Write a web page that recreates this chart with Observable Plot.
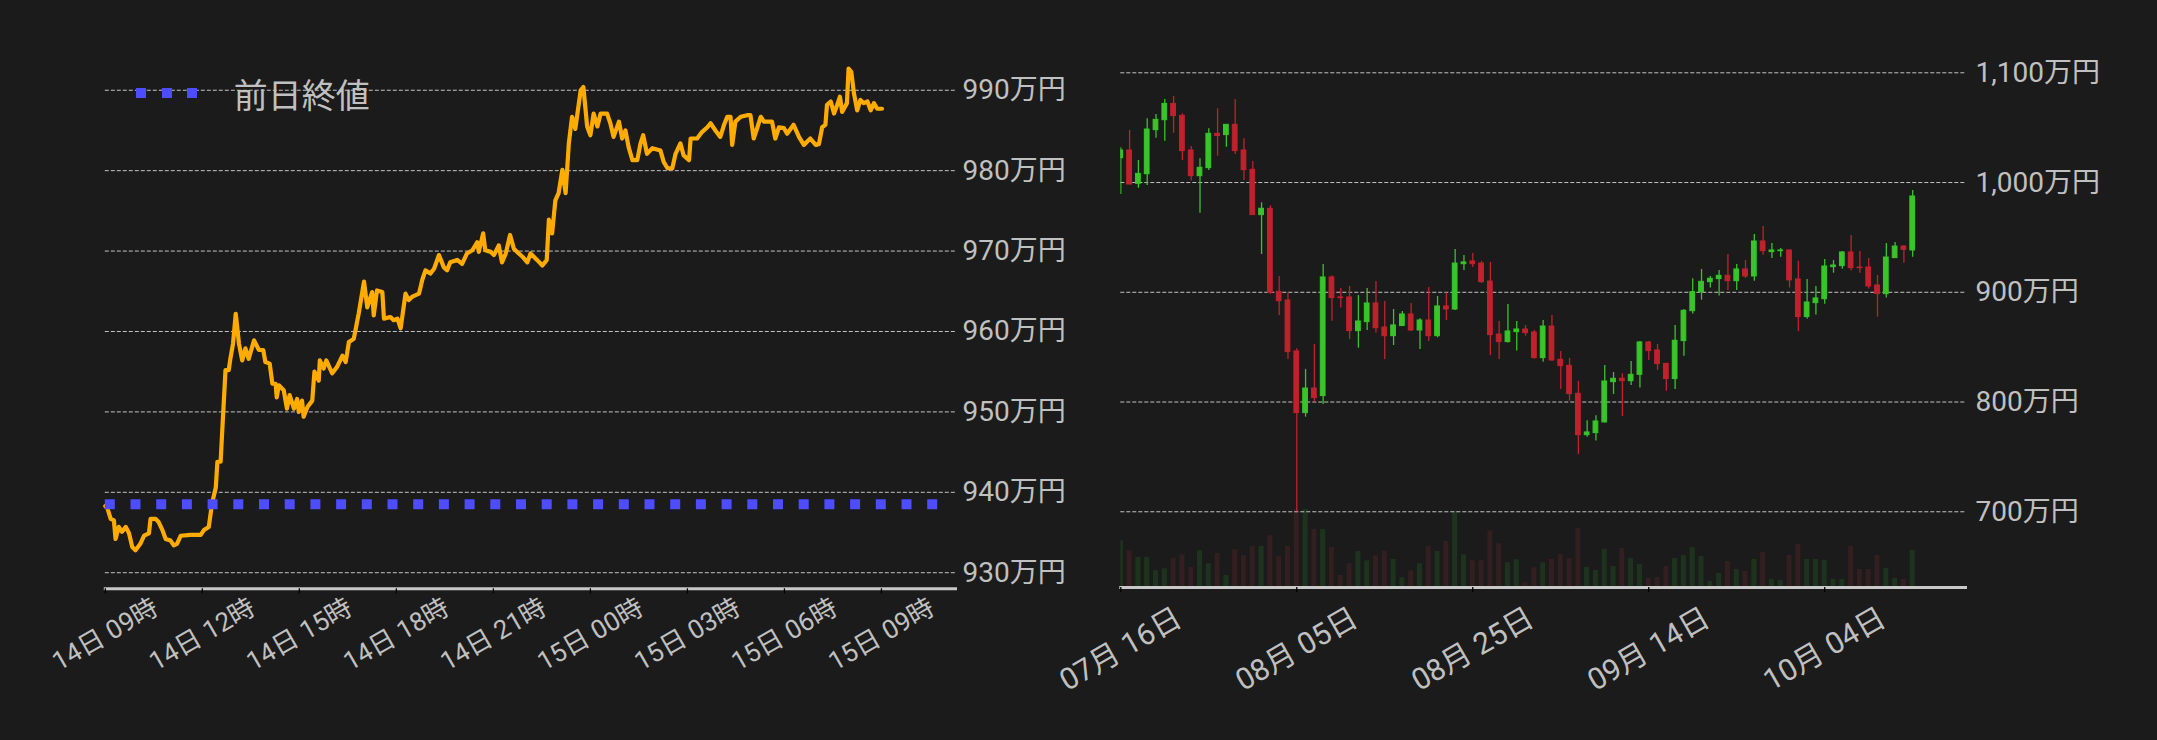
<!DOCTYPE html>
<html>
<head>
<meta charset="utf-8">
<script src="https://cdn.jsdelivr.net/npm/d3@7"></script>
<script src="https://cdn.jsdelivr.net/npm/@observablehq/plot@0.6"></script>
<style>
  html, body { margin: 0; padding: 0; background: #1b1b1b; }
  #wrap { position: relative; width: 2157px; height: 740px; overflow: hidden; background: #1b1b1b; }
  .panel { position: absolute; top: 0; }
  .legend { position: absolute; left: 135.7px; top: 73px; height: 40px; display: flex; align-items: center;
            color: #c0c0c0; font-family: "Noto Sans CJK JP", sans-serif; font-size: 34px; }
  .legend .sw { display: inline-block; width: 62px; height: 10px; margin-right: 36px;
                background: repeating-linear-gradient(to right, #4d4dff 0 10px, transparent 10px 25.7px); }
</style>
</head>
<body>
<div id="wrap">
  <div id="left" class="panel" style="left:0"></div>
  <div id="vol" class="panel" style="left:1080px"></div>
  <div id="candle" class="panel" style="left:1080px"></div>
  <div class="legend"><span class="sw"></span><span id="legendText"></span></div>
</div>
<script>
// ---------- intraday (left) ----------
const sessionStart = "2024-10-14T09:00:00Z";
const legendLabel = "前日終値";
const prevClose = 938.5;
const intradayMinutes = [
  0,4,10,16,19,25,31,38,44,50,
  56,65,72,81,84,93,99,106,112,121,
  127,133,140,158,177,183,192,198,205,208,
  214,217,220,223,229,232,237,242,248,254,
  260,266,276,285,293,297,305,310,316,318,
  322,331,337,342,350,356,359,365,368,375,
  384,388,396,398,405,410,421,430,440,446,
  452,461,464,470,480,486,495,498,504,514,
  517,529,535,542,548,557,563,569,582,588,
  594,603,610,619,628,634,640,653,662,671,
  681,690,693,701,705,715,721,730,736,743,
  751,758,764,774,783,789,801,811,819,823,
  829,835,841,848,854,860,866,872,882,887,
  894,900,906,913,919,931,937,943,953,959,
  965,971,978,987,993,998,1005,1015,1030,1036,
  1043,1052,1058,1067,1073,1083,1086,1098,1107,1117,
  1123,1132,1141,1148,1154,1160,1163,1169,1179,1191,
  1197,1203,1210,1216,1222,1237,1243,1250,1259,1265,
  1277,1287,1296,1308,1318,1324,1330,1336,1339,1346,
  1352,1358,1363,1367,1376,1379,1384,1389,1395,1401,
  1407,1414,1420,1426,1432,1441
];
const intradayPrices = [
  938.3,938.0,936.7,936.5,934.2,935.7,935.1,935.7,934.9,933.2,
  932.8,933.6,934.6,934.9,936.7,936.7,936.3,935.3,934.2,934.0,
  933.4,933.6,934.6,934.7,934.7,935.3,935.7,938.6,940.6,943.8,
  943.8,947.7,951.4,955.2,955.2,956.6,958.5,962.2,958.5,956.4,
  957.9,956.6,958.9,957.7,957.7,956.2,956.0,953.5,953.5,951.8,
  953.3,952.7,950.4,952.1,950.4,951.6,950.0,951.4,949.4,950.6,
  951.4,955.0,953.9,956.4,955.4,956.4,954.8,955.6,957.0,956.2,
  958.7,959.1,960.1,962.2,966.2,963.0,964.9,962.0,965.1,964.9,
  961.6,961.8,961.4,961.6,960.4,964.7,963.9,964.3,964.7,966.4,
  967.6,967.2,967.8,969.5,968.0,967.6,968.6,968.9,968.4,969.7,
  970.1,971.1,969.9,972.2,970.1,969.9,969.5,970.7,968.6,969.7,
  972.0,970.3,969.9,969.3,968.6,969.7,968.9,968.2,968.9,973.9,
  972.2,976.3,977.2,980.1,977.2,983.4,986.7,985.2,990.0,990.4,
  985.5,984.4,987.1,985.5,987.1,987.1,985.9,984.2,986.1,984.0,
  985.0,982.9,981.3,981.3,983.4,984.4,982.1,982.8,982.5,981.1,
  980.3,980.3,982.1,983.4,981.9,981.3,984.0,984.0,984.8,985.4,
  985.9,985.0,984.2,985.7,986.7,986.7,983.2,986.1,986.7,986.9,
  986.9,984.0,985.4,986.7,986.1,986.1,984.0,985.4,985.3,984.6,
  985.7,984.2,983.2,984.0,983.2,983.3,985.4,985.7,988.2,988.6,
  987.1,988.2,989.2,987.3,988.4,992.7,992.3,989.6,987.5,988.8,
  988.4,988.6,987.5,988.4,987.7,987.7
];
const leftYTicks = [930, 940, 950, 960, 970, 980, 990];
const leftXTickHours = [0, 3, 6, 9, 12, 15, 18, 21, 24];
const leftDomainHours = 26.29;
const prevCloseEndHours = 26.0;

// ---------- daily candles (right) ----------
const candleStartDate = "2024-07-16T00:00:00Z";
const candleOpen = [
  1022.2,1029.2,998.8,1007.6,1047.7,1056.8,1071.7,1060.8,1029.2,1005.8,
  1013.1,1044.4,1043.2,1052.6,1029.2,1011.6,970.3,976.1,900.4,892.5,
  846.1,789.9,812.3,805.4,913.5,895.3,895.3,864.6,872.8,889.8,
  867.9,860.0,869.2,879.8,865.2,874.3,860.0,887.1,884.3,925.6,
  928.1,926.2,909.8,861.5,854.6,863.7,866.1,863.4,840.0,868.8,
  838.5,833.0,807.5,769.8,771.7,781.4,818.1,821.2,819.0,824.8,
  854.3,847.0,834.8,820.9,855.5,882.8,900.1,909.2,912.0,915.0,
  910.1,920.8,914.4,946.3,936.6,937.5,938.1,911.7,877.4,890.1,
  893.7,922.9,923.8,936.3,922.6,922.6,906.2,898.3,931.1,941.7,
  938.1
];
const candleHigh = [
  1031.6,1047.4,1020.1,1058.1,1062.0,1075.7,1078.4,1062.6,1032.8,1021.6,
  1049.0,1067.2,1052.6,1075.7,1039.8,1019.2,981.5,978.8,914.4,899.5,
  848.5,829.7,852.4,925.3,915.0,903.5,905.3,897.1,903.5,909.8,
  891.6,884.3,882.5,889.8,875.8,904.4,896.2,899.5,939.0,933.5,
  935.4,928.1,927.2,873.4,888.9,873.4,869.7,865.2,874.3,878.9,
  846.1,839.7,818.7,782.9,787.4,833.3,826.9,825.7,836.9,855.2,
  855.2,852.4,834.8,869.8,884.3,912.3,920.8,914.4,919.9,934.4,
  925.3,929.0,952.7,960.0,944.5,939.9,938.4,928.4,911.7,905.3,
  929.9,929.0,937.2,951.8,937.2,930.8,915.3,944.5,945.4,942.6,
  992.8
];
const candleLow = [
  989.1,998.0,994.9,997.3,1040.4,1037.7,1045.0,1020.1,1001.3,972.1,
  1011.0,1024.0,1032.2,1025.5,1001.9,970.3,934.5,898.0,878.9,838.8,
  700.0,786.2,799.9,797.8,873.7,885.6,857.0,849.1,865.2,862.8,
  838.8,851.5,869.0,864.3,847.9,855.2,858.5,874.3,883.4,919.9,
  922.6,908.0,842.4,838.8,853.7,846.4,860.0,839.1,836.3,837.0,
  811.4,800.8,752.0,768.0,764.4,780.8,806.9,786.8,815.1,812.7,
  837.9,828.8,809.9,811.4,841.8,880.1,892.8,903.8,896.5,901.6,
  901.6,912.6,910.1,933.8,930.8,932.0,903.8,864.3,875.5,879.2,
  889.2,917.4,921.1,919.3,917.4,902.9,877.4,894.7,931.0,926.5,
  932.0
];
const candleClose = [
  1029.2,998.2,1007.9,1048.3,1057.1,1071.7,1060.5,1028.6,1005.8,1013.4,
  1044.4,1042.3,1052.6,1028.6,1011.3,970.3,976.1,899.5,891.9,845.5,
  789.9,812.3,803.5,913.5,894.7,894.7,864.6,873.4,889.8,867.3,
  860.0,869.8,879.8,865.2,874.3,860.0,887.1,884.3,926.2,927.2,
  925.6,909.2,860.9,854.6,864.3,866.1,862.8,840.0,868.8,837.9,
  832.7,807.2,769.8,772.3,782.3,818.7,821.2,819.0,824.8,854.3,
  846.4,834.5,820.9,855.8,883.1,900.1,909.5,912.3,915.0,910.1,
  920.8,914.4,946.3,937.5,938.1,938.1,910.8,877.4,890.7,894.4,
  923.5,924.4,936.3,922.0,922.0,905.3,898.3,931.7,941.7,938.7,
  987.3
];
const candleVolume = [
  467,367,300,300,167,187,290,327,200,367,
  237,340,120,377,317,410,410,517,310,410,
  780,780,580,580,400,120,237,360,267,317,
  360,280,97,167,237,410,360,460,760,327,
  267,267,567,437,247,277,47,197,247,280,
  330,290,593,200,170,380,210,390,290,230,
  90,100,210,290,320,400,310,60,140,260,
  180,160,280,350,80,70,320,430,280,280,
  270,80,80,410,180,180,320,190,90,80,
  370
];
const rightYTicks = [700, 800, 900, 1000, 1100];
const rightXTickDays = [0, 20, 40, 60, 80];
const rightDomainDays = 96;

// ---------- styling ----------
const textColor = "#c0c0c0";
const gridColor = "#c4c4c4";
const axisLineColor = "#c8c8c8";
const lineColor = "#ffab00";
const prevColor = "#4d4dff";
const upColor = "#38c42a";
const downColor = "#c0222d";
const upVolColor = "#1e331e";
const downVolColor = "#331e20";
const fontFamily = 'Roboto, "Noto Sans CJK JP", sans-serif';

document.getElementById("legendText").textContent = legendLabel;

const HOUR = 3600e3, DAY = 864e5;
const t0 = new Date(sessionStart);
const intraday = intradayMinutes.map((m, i) => ({time: new Date(+t0 + m * 60e3), price: intradayPrices[i]}));
const leftXTicks = leftXTickHours.map(h => new Date(+t0 + h * HOUR));
const fmtHour = d3.utcFormat("%d日 %H時");
const fmtMan = v => d3.format(",")(v) + "万円";

const leftPlot = Plot.plot({
  width: 1080, height: 740,
  marginLeft: 104.8, marginRight: 125, marginTop: 60, marginBottom: 151.7,
  x: {type: "utc", domain: [t0, new Date(+t0 + leftDomainHours * HOUR)]},
  y: {domain: [928.0, 993.7]},
  style: {background: "transparent", color: textColor, fontFamily, overflow: "visible"},
  marks: [
    Plot.gridY(leftYTicks, {stroke: gridColor, strokeOpacity: 1, strokeDasharray: "4,2", strokeWidth: 1}),
    Plot.lineY(intraday, {x: "time", y: "price", stroke: lineColor, strokeWidth: 4.2, strokeLinejoin: "round"}),
    Plot.ruleY([{y: prevClose, x1: t0, x2: new Date(+t0 + prevCloseEndHours * HOUR)}],
      {y: "y", x1: "x1", x2: "x2", stroke: prevColor, strokeWidth: 10, strokeDasharray: "10,15.7"}),
    Plot.frame({anchor: "bottom", stroke: axisLineColor, strokeWidth: 3}),
    Plot.axisX(leftXTicks, {tickSize: 5, text: null, stroke: "#000", strokeWidth: 1.3, label: null}),
    Plot.axisX(leftXTicks, {tickSize: 0, tickPadding: 46, tickRotate: -30, textAnchor: "middle", lineAnchor: "middle",
      tickFormat: fmtHour, fontSize: 26, fill: textColor, label: null}),
    Plot.axisY(leftYTicks, {anchor: "right", tickSize: 0, tickPadding: 7, tickFormat: fmtMan, fontSize: 28,
      fill: textColor, label: null})
  ]
});
document.getElementById("left").append(leftPlot);

// right panel
const c0 = new Date(candleStartDate);
const candles = candleOpen.map((o, i) => ({
  date: new Date(+c0 + i * DAY), open: o, high: candleHigh[i], low: candleLow[i], close: candleClose[i],
  volume: candleVolume[i], up: candleClose[i] >= o
}));
const rightXTicks = rightXTickDays.map(d => new Date(+c0 + d * DAY));
const fmtDay = d3.utcFormat("%m月 %d日");
const xRight = {type: "utc", domain: [c0, new Date(+c0 + rightDomainDays * DAY)]};
const rightMargins = {width: 1077, height: 740, marginLeft: 40.3, marginRight: 192, marginTop: 60, marginBottom: 153};

const volPlot = Plot.plot({
  ...rightMargins,
  x: xRight,
  y: {domain: [0, 5270]},
  color: {type: "identity"},
  style: {background: "transparent", overflow: "visible"},
  axis: null,
  marks: [
    Plot.rect(candles, {
      x1: d => new Date(+d.date - 0.285 * DAY), x2: d => new Date(+d.date + 0.285 * DAY),
      y1: 0, y2: "volume", fill: d => d.up ? upVolColor : downVolColor, clip: true
    })
  ]
});
document.getElementById("vol").append(volPlot);

const candlePlot = Plot.plot({
  ...rightMargins,
  x: xRight,
  y: {domain: [631.0, 1111.2]},
  color: {type: "identity"},
  style: {background: "transparent", color: textColor, fontFamily, overflow: "visible"},
  marks: [
    Plot.gridY(rightYTicks, {stroke: gridColor, strokeOpacity: 1, strokeDasharray: "4,2", strokeWidth: 1}),
    Plot.ruleX(candles, {x: "date", y1: "low", y2: "high", stroke: d => d.up ? upColor : downColor, strokeWidth: 1.3, clip: true}),
    Plot.rect(candles, {
      x1: d => new Date(+d.date - 0.27 * DAY), x2: d => new Date(+d.date + 0.27 * DAY),
      y1: "open", y2: "close", fill: d => d.up ? upColor : downColor, stroke: d => d.up ? upColor : downColor,
      strokeWidth: 1, clip: true
    }),
    Plot.frame({anchor: "bottom", stroke: axisLineColor, strokeWidth: 3}),
    Plot.axisX(rightXTicks, {tickSize: 5, text: null, stroke: "#000", strokeWidth: 1.3, label: null}),
    Plot.axisX(rightXTicks, {tickSize: 0, tickPadding: 62, tickRotate: -30, textAnchor: "middle", lineAnchor: "middle",
      tickFormat: fmtDay, fontSize: 30, fill: textColor, label: null}),
    Plot.axisY(rightYTicks, {anchor: "right", tickSize: 0, tickPadding: 10, tickFormat: fmtMan, fontSize: 28,
      fill: textColor, label: null})
  ]
});
document.getElementById("candle").append(candlePlot);
</script>
</body>
</html>
